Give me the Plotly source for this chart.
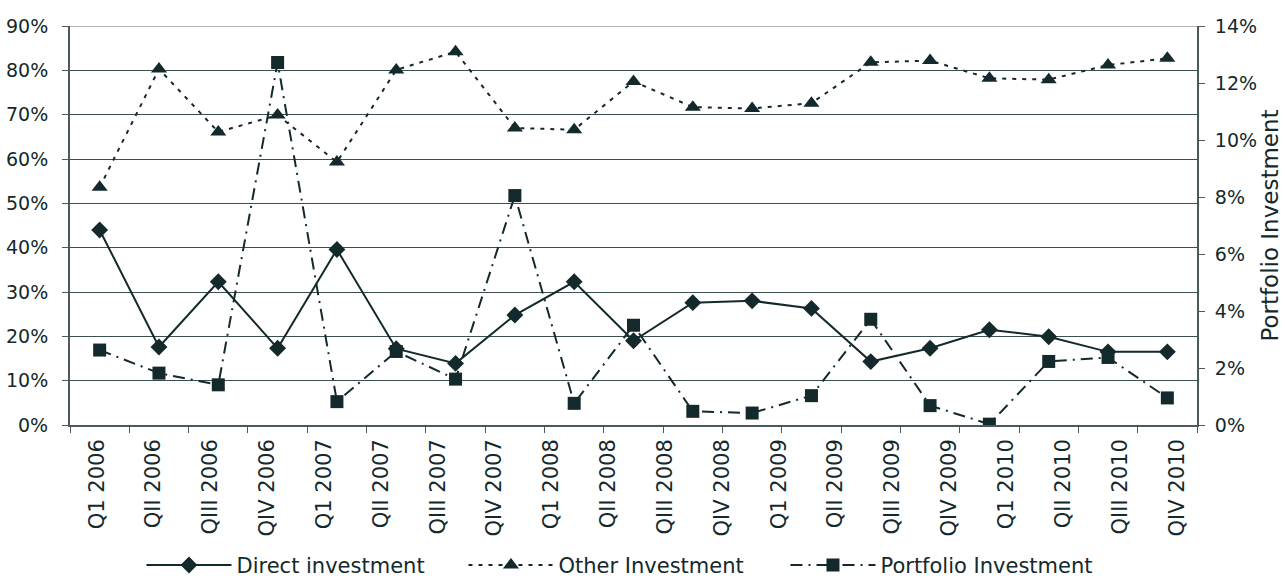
import numpy as np
import plotly.graph_objects as go

# Quarter labels shown along the category axis
quarters = [
    "Q1 2006", "QII 2006", "QIII 2006", "QIV 2006",
    "Q1 2007", "QII 2007", "QIII 2007", "QIV 2007",
    "Q1 2008", "QII 2008", "QIII 2008", "QIV 2008",
    "Q1 2009", "QII 2009", "QIII 2009", "QIV 2009",
    "Q1 2010", "QII 2010", "QIII 2010", "QIV 2010",
]

# Shares of total investment (fractions)
direct = [0.440, 0.176, 0.323, 0.173, 0.396, 0.172, 0.139, 0.248,
          0.323, 0.190, 0.276, 0.280, 0.263, 0.143, 0.173, 0.215,
          0.199, 0.165, 0.165]
other = [0.536, 0.803, 0.661, 0.699, 0.593, 0.801, 0.842, 0.670,
         0.666, 0.775, 0.717, 0.714, 0.726, 0.818, 0.822, 0.782,
         0.779, 0.812, 0.827]
portfolio = [0.0263, 0.0182, 0.0141, 0.1272, 0.0082, 0.0258, 0.0161, 0.0805,
             0.0076, 0.0350, 0.0048, 0.0042, 0.0103, 0.0371, 0.0068, 0.0003,
             0.0223, 0.0237, 0.0095]

INK = "#13292b"
AXIS = "#4a5a5c"
FONT = "DejaVu Sans"
idx = list(range(len(direct)))

fig = go.Figure()

fig.add_trace(go.Scatter(
    x=idx, y=direct, name="Direct investment", mode="lines+markers",
    line=dict(color=INK, width=2),
    marker=dict(symbol="diamond", size=13, color=INK),
))
fig.add_trace(go.Scatter(
    x=idx, y=other, name="Other Investment", mode="lines+markers",
    line=dict(color=INK, width=2, dash="4px,6px"),
    marker=dict(symbol="triangle-up", size=14, color=INK),
))
fig.add_trace(go.Scatter(
    x=idx, y=portfolio, name="Portfolio Investment", mode="lines+markers",
    yaxis="y2",
    line=dict(color=INK, width=2, dash="12px,6px,2px,6px"),
    marker=dict(symbol="square", size=13, color=INK),
))
# carrier for the quarter label axis
fig.add_trace(go.Scatter(
    x=[0, len(quarters) - 1], y=[0, 0], xaxis="x3", mode="markers",
    marker=dict(opacity=0), showlegend=False, hoverinfo="skip",
))

n = len(direct)
fig.update_layout(
    width=1285, height=578,
    margin=dict(l=70, r=88, t=26, b=153, autoexpand=False),
    paper_bgcolor="white", plot_bgcolor="white",
    font=dict(family=FONT, size=19, color=INK),
    showlegend=True,
    legend=dict(
        orientation="h", x=0.492, xanchor="center",
        yref="container", y=0.022, yanchor="middle",
        font=dict(size=21, color=INK), itemwidth=85,
        entrywidth=222, traceorder="normal",
    ),
    xaxis=dict(
        range=[-0.5, n - 0.5], showgrid=False, zeroline=False,
        showline=True, linecolor=AXIS, linewidth=2,
        tickmode="array", tickvals=list(np.arange(-0.5, n, 1.0)),
        ticks="outside", ticklen=6, tickcolor=AXIS,
        showticklabels=False,
    ),
    xaxis3=dict(
        overlaying="x", anchor="y", side="bottom",
        range=[-0.47, 19.357], showgrid=False, zeroline=False,
        showline=False, ticks="",
        tickmode="array", tickvals=list(range(len(quarters))),
        ticktext=quarters, tickangle=-90,
        tickfont=dict(size=21, color=INK), ticklabelstandoff=9,
    ),
    yaxis=dict(
        range=[0, 0.9], dtick=0.1, tickformat=".0%",
        showgrid=True, gridcolor="#3b4f51", gridwidth=1,
        zeroline=False, showline=True, linecolor=AXIS, linewidth=2,
        ticks="outside", ticklen=6, tickcolor=AXIS,
        tickfont=dict(size=19, color=INK), ticklabelstandoff=10,
    ),
    yaxis2=dict(
        overlaying="y", side="right", anchor="x",
        range=[0, 0.14], dtick=0.02, tickformat=".0%",
        showgrid=False, zeroline=False,
        showline=True, linecolor=AXIS, linewidth=2,
        ticks="outside", ticklen=6, tickcolor=AXIS,
        tickfont=dict(size=19, color=INK), ticklabelstandoff=6,
        title=dict(text="Portfolio Investment", font=dict(size=23, color=INK),
                   standoff=6),
    ),
    shapes=[dict(
        type="line", xref="paper", x0=0, x1=1, yref="y", y0=0.9, y1=0.9,
        line=dict(color="#b4b4b4", width=2), layer="above",
    )],
)

fig.write_html("out.html")
